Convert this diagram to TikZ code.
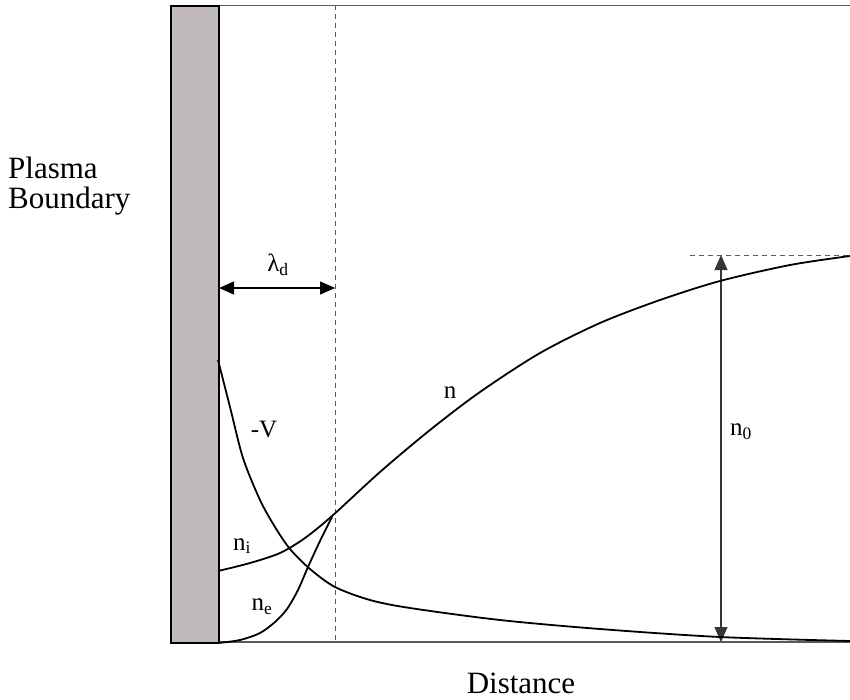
\documentclass[tikz,border=0pt]{standalone}
\usepackage{fontspec}
\setmainfont{Liberation Serif}
\usetikzlibrary{arrows.meta}
\definecolor{wallgray}{RGB}{192,186,189}
\definecolor{axisgray}{RGB}{90,90,90}
\tikzset{
  curve/.style={line width=1.8pt, black},
  guide/.style={line width=0.9pt, dash pattern=on 5pt off 4pt, axisgray},
  dimarrow/.style={line width=1.2pt, {Triangle[length=15pt,width=13pt]}-{Triangle[length=15pt,width=13pt]}},
  biglabel/.style={font=\fontsize{31}{36}\selectfont, inner sep=0pt},
  lbl/.style={font=\fontsize{25}{30}\selectfont, inner sep=0pt}
}
\begin{document}
\begin{tikzpicture}[x=1pt,y=-1pt]
\useasboundingbox (0,0) rectangle (850,699);
% frame lines
\coordinate (tl) at (170,5);
\coordinate (tr) at (850,5);
\coordinate (bl) at (170,642);
\coordinate (br) at (850,642);
\draw[line width=1pt, axisgray] (tl) -- (tr);
\draw[line width=2pt, axisgray] (bl) -- (br);
% wall
\node[draw=black, line width=2.4pt, fill=wallgray, minimum width=48pt, minimum height=637pt, inner sep=0pt, anchor=north west] (wall) at (170,5) {};
% debye length guide
\coordinate (dtop) at (335,5);
\coordinate (dbot) at (335,642);
\draw[guide] (dtop) -- (dbot);
% n0 guide
\coordinate (htl) at (690,255);
\coordinate (htr) at (850,255);
\draw[guide] (htl) -- (htr);
% lambda_d arrow
\coordinate (la) at (219,288);
\coordinate (lb) at (335,288);
\draw[dimarrow] (la) -- (lb);
\node[lbl] (lam) at (278,265) {λ\textsubscript{d}};
% n0 arrow
\coordinate (na) at (721,255);
\coordinate (nb) at (721,642);
\draw[dimarrow, line width=1.1pt, axisgray!60!black] (na) -- (nb);
\node[lbl] (nzero) at (741,432) {n\textsubscript{0}};
% -V curve
\draw[curve] plot[smooth, tension=0.5] coordinates {(218,360) (230,407) (243,458) (260,500) (275,527) (290,549) (310,569) (335,587) (370,600) (410,608) (500,620) (600,629) (720,637) (850,641)};
% n / n_i curve
\draw[curve] plot[smooth, tension=0.5] coordinates {(218,571) (250,563) (280,553) (305,538) (332,516) (380,472) (430,430) (480,392) (540,353) (600,323) (660,300) (720,281) (790,265) (850,256)};
% n_e curve
\draw[curve] plot[smooth, tension=0.5] coordinates {(218,643) (240,640) (260,633) (275,622) (287,609) (298,590) (308,567) (320,541) (332,517)};
% labels
\node[lbl] (vlab) at (264,429) {-V};
\node[lbl] (nlab) at (450,393) {n};
\node[lbl] (nilab) at (242,546) {n\textsubscript{i}};
\node[lbl] (nelab) at (262,607) {n\textsubscript{e}};
\node[biglabel, anchor=base west] (plasma) at (8,178) {Plasma};
\node[biglabel, anchor=base west] (boundary) at (8,208) {Boundary};
\node[biglabel, anchor=base] (dist) at (521,693) {Distance};
\end{tikzpicture}
\end{document}
